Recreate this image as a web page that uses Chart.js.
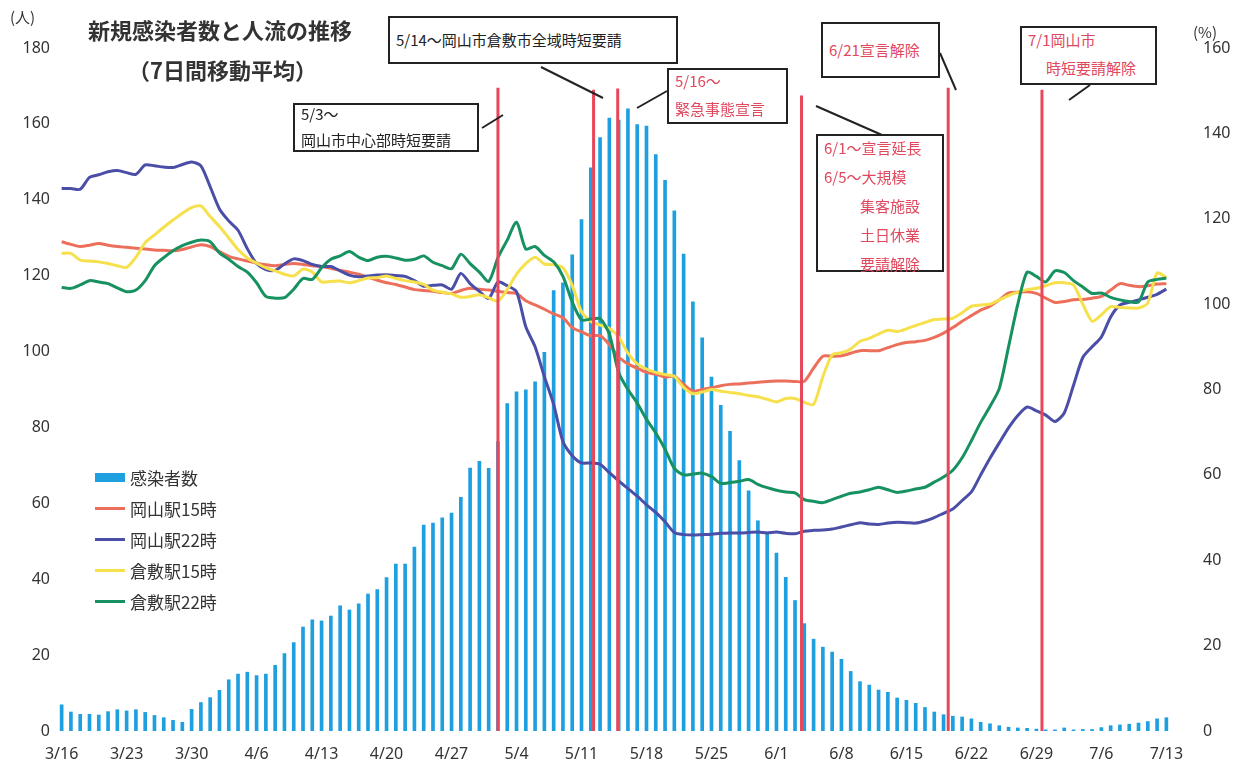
<!DOCTYPE html>
<html lang="ja">
<head>
<meta charset="utf-8">
<title>新規感染者数と人流の推移</title>
<script src="https://cdn.jsdelivr.net/npm/chart.js@4.4.1/dist/chart.umd.min.js"></script>
<style>
  body { margin: 0; background: #fff; font-family: "Noto Sans CJK JP", "Noto Sans", sans-serif; }
  #wrap { position: relative; width: 1237px; height: 776px; overflow: hidden; }
  #c { position: absolute; left: 0; top: 0; }
  .t { position: absolute; white-space: nowrap; color: #333; }
  .title { font-weight: 700; font-size: 22px; }
  .box { position: absolute; border: 2px solid #222; background: #fff; font-size: 15px; line-height: 28px; color: #222; box-sizing: border-box; padding: 0 6px; }
  .box .in { position: relative; }
  .red { color: #e0485e; }
  #legend { position: absolute; left: 95px; top: 462px; font-size: 17px; color: #333; }
  #legend div { height: 31px; display: flex; align-items: center; }
  #legend span.sw { display: inline-block; width: 30px; margin-right: 5px; }
  svg { position: absolute; left: 0; top: 0; }
</style>
</head>
<body>
<div id="wrap">
  <canvas id="c" width="1237" height="776"></canvas>
  <svg width="1237" height="776">
    <g stroke="#222" stroke-width="2">
      <line x1="482" y1="128" x2="503" y2="115"/>
      <line x1="541" y1="67" x2="603" y2="98"/>
      <line x1="667" y1="91" x2="637" y2="108"/>
      <line x1="940" y1="53" x2="956" y2="90"/>
      <line x1="1090" y1="85" x2="1069" y2="100"/>
      <line x1="816" y1="106" x2="882" y2="135"/>
    </g>
  </svg>

  <div class="t" style="left:10px;top:6px;font-size:15px;">(人)</div>
  <div class="t" style="left:1193px;top:21px;font-size:15px;">(%)</div>
  <div class="t title" style="left:88px;top:13px;">新規感染者数と人流の推移</div>
  <div class="t title" style="left:128px;top:53px;">（7日間移動平均）</div>

  <div class="box" style="left:293px;top:103px;width:186px;height:49px;line-height:26px;"><div class="in" style="top:-4px">5/3～<br>岡山市中心部時短要請</div></div>
  <div class="box" style="left:388px;top:16px;width:290px;height:48px;line-height:44px;">5/14～岡山市倉敷市全域時短要請</div>
  <div class="box red" style="left:667px;top:68px;width:121px;height:56px;"><div class="in" style="top:-3px">5/16～<br>緊急事態宣言</div></div>
  <div class="box red" style="left:821px;top:22px;width:119px;height:56px;line-height:52px;">6/21宣言解除</div>
  <div class="box red" style="left:1020px;top:26px;width:137px;height:59px;"><div class="in" style="top:-2px">7/1岡山市<br><span style="padding-left:18px">時短要請解除</span></div></div>
  <div class="box red" style="left:816px;top:134px;width:128px;height:138px;line-height:29px;"><div class="in" style="top:-3px">6/1～宣言延長<br>6/5～大規模<br><span style="padding-left:36px">集客施設</span><br><span style="padding-left:36px">土日休業</span><br><span style="padding-left:36px">要請解除</span></div></div>

  <div id="legend"></div>
</div>

<script>
// 日付（3/16〜7/13、毎日）
const dates = [
  '3/16','3/17','3/18','3/19','3/20','3/21','3/22','3/23','3/24','3/25','3/26','3/27','3/28','3/29','3/30','3/31',
  '4/1','4/2','4/3','4/4','4/5','4/6','4/7','4/8','4/9','4/10','4/11','4/12','4/13','4/14','4/15',
  '4/16','4/17','4/18','4/19','4/20','4/21','4/22','4/23','4/24','4/25','4/26','4/27','4/28','4/29','4/30',
  '5/1','5/2','5/3','5/4','5/5','5/6','5/7','5/8','5/9','5/10','5/11','5/12','5/13','5/14','5/15','5/16',
  '5/17','5/18','5/19','5/20','5/21','5/22','5/23','5/24','5/25','5/26','5/27','5/28','5/29','5/30','5/31',
  '6/1','6/2','6/3','6/4','6/5','6/6','6/7','6/8','6/9','6/10','6/11','6/12','6/13','6/14','6/15',
  '6/16','6/17','6/18','6/19','6/20','6/21','6/22','6/23','6/24','6/25','6/26','6/27','6/28','6/29','6/30',
  '7/1','7/2','7/3','7/4','7/5','7/6','7/7','7/8','7/9','7/10','7/11','7/12','7/13'
];

// 目盛りに表示する日付
const tickLabels = ['3/16','3/23','3/30','4/6','4/13','4/20','4/27','5/4','5/11','5/18','5/25','6/1','6/8','6/15','6/22','6/29','7/6','7/13'];

// 感染者数（人、7日間移動平均）
const cases = [
  6.9, 5.0, 4.4, 4.4, 4.2, 5.1, 5.6, 5.3, 5.6, 4.9, 4.1, 3.5, 2.8, 2.3, 5.7, 7.5,
  8.8, 10.7, 13.5, 15.0, 15.5, 14.6, 15.0, 17.3, 20.4, 23.3, 27.4, 29.3, 29.0, 30.3,
  33.0, 31.9, 33.5, 36.1, 37.3, 40.4, 44.0, 44.0, 48.5, 54.3, 54.8, 56.2, 57.4, 61.6, 69.3, 71.1,
  69.2, 76.3, 86.3, 89.4, 89.9, 92.0, 99.8, 116.1, 118.1, 125.5, 134.8, 148.4, 156.4, 161.5, 161.0,
  164.0, 159.8, 159.4, 151.9, 145.1, 137.1, 125.7, 113.1, 103.6, 93.3, 85.8, 79.0, 71.3, 63.3, 55.4, 52.4,
  46.9, 40.5, 34.4, 28.3, 24.2, 22.1, 20.8, 18.9, 15.7, 13.0, 12.1, 10.8, 10.2, 8.7, 8.1,
  7.3, 6.2, 5.0, 4.3, 3.9, 3.7, 3.2, 2.3, 1.9, 1.4, 1.0, 0.8, 0.7, 0.5, 0.3,
  0.3, 0.8, 0.3, 0.4, 0.4, 0.9, 1.4, 1.6, 1.8, 2.1, 2.5, 3.2, 3.5
];

// 人流（%）
const okayama15 = [
  114.6, 114.0, 113.5, 113.8, 114.2, 113.8, 113.5, 113.3, 113.1, 112.9, 112.7, 112.6, 112.5, 112.8, 113.4, 113.9,
  113.5, 112.3, 111.2, 110.6, 110.1, 109.6, 109.2, 109.0, 109.3, 109.5, 109.3, 109.0, 108.8, 108.4,
  107.9, 107.5, 107.0, 106.3, 105.6, 105.0, 104.6, 104.0, 103.4, 103.2, 103.0, 102.7, 102.5, 103.2, 103.7, 103.5,
  103.3, 103.0, 102.7, 102.5, 100.8, 99.8, 98.8, 97.7, 96.8, 94.5, 93.5, 92.6, 92.6, 90.5, 87.6,
  86.0, 85.0, 84.0, 83.6, 82.9, 83.1, 81.2, 79.6, 80.0, 80.4, 80.9, 81.2, 81.3, 81.5, 81.7, 81.9,
  82.0, 82.0, 81.9, 81.9, 85.0, 87.8, 87.8, 87.9, 88.5, 89.1, 89.1, 89.1, 89.8, 90.5, 91.0,
  91.2, 91.5, 92.2, 93.2, 94.5, 96.0, 97.3, 98.6, 99.5, 101.0, 102.6, 102.8, 102.9, 102.5, 101.4,
  100.4, 100.6, 101.0, 101.1, 101.4, 101.8, 103.3, 104.8, 104.4, 104.1, 104.3, 104.7, 104.8
];
const okayama22 = [
  127.1, 127.1, 126.9, 129.7, 130.3, 131.0, 131.3, 130.8, 130.4, 132.6, 132.4, 132.1, 132.0, 132.7, 133.3, 132.4,
  127.5, 122.3, 119.5, 117.3, 113.0, 109.5, 108.1, 107.9, 109.4, 110.6, 110.2, 109.3, 108.8, 108.8,
  107.8, 106.8, 106.4, 106.6, 106.8, 106.9, 106.7, 106.5, 105.5, 104.2, 104.4, 104.5, 103.5, 107.2, 104.8, 103.0,
  101.3, 105.2, 104.3, 102.9, 94.7, 90.0, 83.0, 76.5, 67.8, 64.5, 62.8, 62.8, 62.5, 60.5, 58.6,
  56.8, 55.0, 53.0, 51.2, 49.0, 46.5, 46.0, 45.9, 46.0, 46.1, 46.3, 46.4, 46.4, 46.5, 46.6, 46.4,
  46.6, 46.3, 46.2, 46.8, 47.0, 47.1, 47.3, 47.8, 48.3, 48.8, 48.5, 48.4, 48.7, 48.9, 48.8,
  48.7, 49.2, 50.0, 51.0, 52.0, 54.0, 56.0, 60.0, 63.9, 67.5, 71.0, 73.9, 75.9, 75.0, 74.0,
  72.5, 74.5, 81.0, 87.5, 90.0, 92.3, 97.0, 99.8, 100.4, 101.0, 101.6, 102.3, 103.5
];
const kurashiki15 = [
  111.9, 111.9, 110.3, 110.1, 109.9, 109.5, 109.0, 108.6, 111.0, 114.4, 116.2, 118.0, 119.7, 121.3, 122.6, 123.0,
  120.5, 118.2, 115.5, 112.8, 110.8, 109.6, 108.5, 107.8, 107.0, 106.6, 108.2, 107.5, 105.2, 105.3,
  105.4, 105.0, 105.5, 106.1, 106.2, 106.6, 106.0, 105.5, 105.2, 104.6, 103.3, 102.8, 102.4, 101.6, 101.8, 102.2,
  101.5, 100.7, 103.4, 107.0, 109.5, 111.0, 109.4, 109.2, 108.5, 104.4, 98.2, 96.0, 95.1, 94.3, 92.3,
  88.5, 86.0, 84.8, 84.0, 83.5, 83.1, 80.5, 79.0, 79.4, 80.0, 79.6, 79.3, 79.0, 78.6, 78.3, 77.7,
  77.1, 77.9, 77.9, 77.0, 76.5, 83.0, 88.1, 88.6, 89.5, 91.3, 92.0, 93.0, 93.9, 93.6, 94.2,
  95.0, 95.7, 96.4, 96.5, 96.7, 98.0, 99.5, 99.8, 100.0, 101.0, 102.0, 102.8, 103.4, 103.7, 104.3,
  105.0, 105.0, 104.5, 100.0, 96.0, 97.5, 99.4, 99.2, 99.1, 99.1, 100.3, 107.3, 106.2
];
const kurashiki22 = [
  103.9, 103.7, 104.5, 105.5, 105.2, 104.8, 103.8, 102.9, 103.3, 105.5, 109.0, 110.9, 112.5, 113.7, 114.5, 115.0,
  114.6, 112.0, 110.5, 108.8, 107.5, 105.0, 101.8, 101.4, 101.5, 103.5, 106.0, 105.8, 108.5, 110.5,
  111.3, 112.3, 111.0, 110.2, 111.0, 111.2, 110.8, 110.3, 110.5, 111.3, 109.8, 109.0, 108.3, 111.7, 109.5, 107.5,
  105.3, 110.9, 115.0, 119.2, 112.9, 113.5, 111.4, 109.9, 106.5, 100.5, 96.3, 96.5, 96.6, 93.0, 84.0,
  80.0, 76.8, 73.0, 69.8, 66.0, 61.5, 60.0, 60.2, 60.4, 59.6, 58.0, 58.2, 58.5, 58.9, 57.8, 57.0,
  56.4, 56.0, 55.8, 54.2, 53.8, 53.5, 54.2, 55.0, 55.7, 56.0, 56.5, 57.1, 56.5, 55.9, 56.2,
  56.7, 57.1, 58.3, 59.5, 61.1, 64.0, 68.0, 72.3, 76.0, 80.2, 90.0, 100.0, 107.5, 106.5, 105.2,
  107.8, 107.4, 105.5, 104.0, 102.5, 102.6, 101.6, 101.0, 100.6, 100.5, 105.2, 105.8, 106.1
];

// 赤い縦線（施策の日付の位置、日付の並びでの位置）
const eventPos = [47.0, 57.3, 59.9, 79.7, 95.5, 105.6];
const eventTop = [169.5, 169, 169.3, 167.5, 169.5, 169];

const BLUE_BAR = '#1e9fe0';
const RED = '#ec6f5c';
const INDIGO = '#4b4ea6';
const YELLOW = '#f6e04c';
const GREEN = '#16915f';

// 縦線を描くプラグイン
const eventLines = {
  id: 'eventLines',
  afterDatasetsDraw(chart) {
    const ctx = chart.ctx;
    const x = chart.scales.x;
    const y = chart.scales.y;
    ctx.save();
    ctx.strokeStyle = '#e8475a';
    ctx.lineWidth = 3;
    eventPos.forEach((p, i) => {
      const px = x.getPixelForValue(p);
      ctx.beginPath();
      ctx.moveTo(px, y.getPixelForValue(eventTop[i]));
      ctx.lineTo(px, y.getPixelForValue(0));
      ctx.stroke();
    });
    ctx.restore();
  }
};

const chart = new Chart(document.getElementById('c'), {
  type: 'bar',
  data: {
    labels: dates,
    datasets: [
      { label: '感染者数', data: cases, backgroundColor: BLUE_BAR, barThickness: 3, yAxisID: 'y', order: 10 },
      { type: 'line', label: '岡山駅15時', data: okayama15, borderColor: RED, borderWidth: 3, pointRadius: 0, tension: 0.25, yAxisID: 'y1', order: 4 },
      { type: 'line', label: '岡山駅22時', data: okayama22, borderColor: INDIGO, borderWidth: 3, pointRadius: 0, tension: 0.25, yAxisID: 'y1', order: 3 },
      { type: 'line', label: '倉敷駅15時', data: kurashiki15, borderColor: YELLOW, borderWidth: 3, pointRadius: 0, tension: 0.25, yAxisID: 'y1', order: 2 },
      { type: 'line', label: '倉敷駅22時', data: kurashiki22, borderColor: GREEN, borderWidth: 3, pointRadius: 0, tension: 0.25, yAxisID: 'y1', order: 1 }
    ]
  },
  options: {
    responsive: false,
    animation: false,
    devicePixelRatio: 1,
    layout: { padding: { top: 48, left: 0, right: 0, bottom: 0 } },
    plugins: { legend: { display: false }, tooltip: { enabled: false } },
    scales: {
      x: {
        grid: { display: false, drawTicks: false },
        border: { display: false },
        ticks: {
          autoSkip: false, maxRotation: 0, padding: 14,
          color: '#333', font: { size: 16, family: '"Noto Sans", sans-serif' },
          callback: function(v, i) { return tickLabels.includes(dates[i]) ? dates[i] : ''; }
        },
        afterFit: function(s) { s.height = 45; }
      },
      y: {
        position: 'left', min: 0, max: 180,
        grid: { display: false, drawTicks: false },
        border: { display: false },
        ticks: { stepSize: 20, padding: 7, color: '#333', font: { size: 16, family: '"Noto Sans", sans-serif' } },
        afterFit: function(s) { s.width = 57; }
      },
      y1: {
        position: 'right', min: 0, max: 160,
        grid: { display: false, drawTicks: false },
        border: { display: false },
        ticks: { stepSize: 20, padding: 32, color: '#333', font: { size: 16, family: '"Noto Sans", sans-serif' } },
        afterFit: function(s) { s.width = 66; }
      }
    }
  },
  plugins: [eventLines]
});

// 凡例（グラフの中、左下）
const legend = document.getElementById('legend');
chart.data.datasets.forEach(ds => {
  const row = document.createElement('div');
  const sw = document.createElement('span');
  sw.className = 'sw';
  if (ds.type === 'line') {
    sw.style.height = '3px';
    sw.style.background = ds.borderColor;
  } else {
    sw.style.height = '9px';
    sw.style.background = ds.backgroundColor;
  }
  row.appendChild(sw);
  row.appendChild(document.createTextNode(ds.label));
  legend.appendChild(row);
});
</script>
</body>
</html>
